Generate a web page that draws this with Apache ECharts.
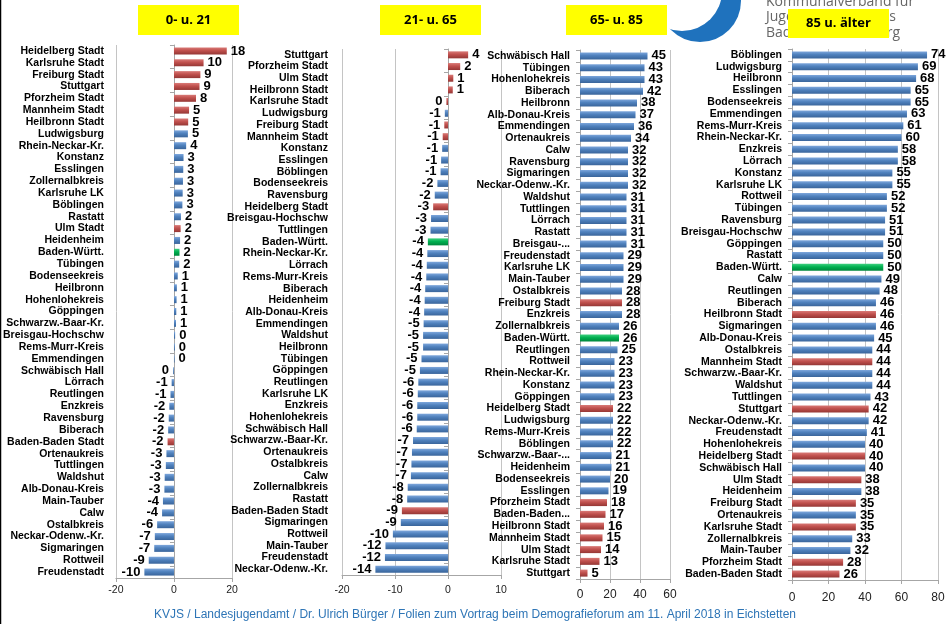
<!DOCTYPE html>
<html>
<head>
<meta charset="utf-8">
<title>Bevölkerungsentwicklung nach Altersgruppen</title>
<script src="https://cdn.jsdelivr.net/npm/echarts@6.0.0/dist/echarts.min.js"></script>
<style>
  html, body { margin: 0; padding: 0; background: #fff; }
  #chart { width: 950px; height: 624px; }
</style>
</head>
<body>
<div id="chart"></div>
<script>
  // Altersgruppen-Überschriften
  const groupTitles = ['0- u. 21', '21- u. 65', '65- u. 85', '85 u. älter']

  // 0- u. 21
  const names1 = ['Heidelberg Stadt', 'Karlsruhe Stadt', 'Freiburg Stadt', 'Stuttgart', 'Pforzheim Stadt',
    'Mannheim Stadt', 'Heilbronn Stadt', 'Ludwigsburg', 'Rhein-Neckar-Kr.', 'Konstanz', 'Esslingen',
    'Zollernalbkreis', 'Karlsruhe LK', 'Böblingen', 'Rastatt', 'Ulm Stadt', 'Heidenheim', 'Baden-Württ.',
    'Tübingen', 'Bodenseekreis', 'Heilbronn', 'Hohenlohekreis', 'Göppingen', 'Schwarzw.-Baar-Kr.',
    'Breisgau-Hochschw', 'Rems-Murr-Kreis', 'Emmendingen', 'Schwäbisch Hall', 'Lörrach', 'Reutlingen',
    'Enzkreis', 'Ravensburg', 'Biberach', 'Baden-Baden Stadt', 'Ortenaukreis', 'Tuttlingen', 'Waldshut',
    'Alb-Donau-Kreis', 'Main-Tauber', 'Calw', 'Ostalbkreis', 'Neckar-Odenw.-Kr.', 'Sigmaringen',
    'Rottweil', 'Freudenstadt']
  const values1 = [18.2, 10.2, 9.1, 8.8, 7.6, 5.2, 4.9, 4.8, 4.2, 3.3, 3.2, 3.1, 3.0, 2.9, 2.4, 2.3, 2.1, 1.9,
    1.8, 1.3, 1.0, 0.9, 0.8, 0.7, 0.4, 0.3, 0.2, -0.3, -0.8, -1.2, -1.6, -1.8, -2.0, -2.2, -2.6, -2.8, -3.2,
    -3.3, -3.8, -4.1, -5.8, -6.6, -6.8, -8.7, -10.2]

  // 21- u. 65
  const names2 = ['Stuttgart', 'Pforzheim Stadt', 'Ulm Stadt', 'Heilbronn Stadt', 'Karlsruhe Stadt',
    'Ludwigsburg', 'Freiburg Stadt', 'Mannheim Stadt', 'Konstanz', 'Esslingen', 'Böblingen', 'Bodenseekreis',
    'Ravensburg', 'Heidelberg Stadt', 'Breisgau-Hochschw', 'Tuttlingen', 'Baden-Württ.', 'Rhein-Neckar-Kr.',
    'Lörrach', 'Rems-Murr-Kreis', 'Biberach', 'Heidenheim', 'Alb-Donau-Kreis', 'Emmendingen', 'Waldshut',
    'Heilbronn', 'Tübingen', 'Göppingen', 'Reutlingen', 'Karlsruhe LK', 'Enzkreis', 'Hohenlohekreis',
    'Schwäbisch Hall', 'Schwarzw.-Baar-Kr.', 'Ortenaukreis', 'Ostalbkreis', 'Calw', 'Zollernalbkreis',
    'Rastatt', 'Baden-Baden Stadt', 'Sigmaringen', 'Rottweil', 'Main-Tauber', 'Freudenstadt',
    'Neckar-Odenw.-Kr.']
  const values2 = [3.8, 2.3, 1.0, 0.9, -0.3, -0.6, -0.7, -1.0, -1.1, -1.3, -1.4, -2.0, -2.5, -2.8, -3.2, -3.3,
    -3.8, -3.9, -4.0, -4.1, -4.3, -4.4, -4.5, -4.6, -4.7, -4.7, -5.0, -5.3, -5.6, -5.7, -5.8, -5.8, -5.9,
    -6.6, -6.8, -6.9, -7.0, -7.6, -7.7, -8.7, -8.9, -10.4, -11.8, -11.9, -13.7]

  // 65- u. 85
  const names3 = ['Schwäbisch Hall', 'Tübingen', 'Hohenlohekreis', 'Biberach', 'Heilbronn', 'Alb-Donau-Kreis',
    'Emmendingen', 'Ortenaukreis', 'Calw', 'Ravensburg', 'Sigmaringen', 'Neckar-Odenw.-Kr.', 'Waldshut',
    'Tuttlingen', 'Lörrach', 'Rastatt', 'Breisgau-...', 'Freudenstadt', 'Karlsruhe LK', 'Main-Tauber',
    'Ostalbkreis', 'Freiburg Stadt', 'Enzkreis', 'Zollernalbkreis', 'Baden-Württ.', 'Reutlingen', 'Rottweil',
    'Rhein-Neckar-Kr.', 'Konstanz', 'Göppingen', 'Heidelberg Stadt', 'Ludwigsburg', 'Rems-Murr-Kreis',
    'Böblingen', 'Schwarzw.-Baar-...', 'Heidenheim', 'Bodenseekreis', 'Esslingen', 'Pforzheim Stadt',
    'Baden-Baden...', 'Heilbronn Stadt', 'Mannheim Stadt', 'Ulm Stadt', 'Karlsruhe Stadt', 'Stuttgart']
  const values3 = [45, 43, 43, 42, 38, 37, 36, 34, 32, 32, 32, 32, 31, 31, 31, 31, 31, 29, 29, 29, 28, 28, 28,
    26, 26, 25, 23, 23, 23, 23, 22, 22, 22, 22, 21, 21, 20, 19, 18, 17, 16, 15, 14, 13, 5]

  // 85 u. älter
  const names4 = ['Böblingen', 'Ludwigsburg', 'Heilbronn', 'Esslingen', 'Bodenseekreis', 'Emmendingen',
    'Rems-Murr-Kreis', 'Rhein-Neckar-Kr.', 'Enzkreis', 'Lörrach', 'Konstanz', 'Karlsruhe LK', 'Rottweil',
    'Tübingen', 'Ravensburg', 'Breisgau-Hochschw', 'Göppingen', 'Rastatt', 'Baden-Württ.', 'Calw',
    'Reutlingen', 'Biberach', 'Heilbronn Stadt', 'Sigmaringen', 'Alb-Donau-Kreis', 'Ostalbkreis',
    'Mannheim Stadt', 'Schwarzw.-Baar-Kr.', 'Waldshut', 'Tuttlingen', 'Stuttgart', 'Neckar-Odenw.-Kr.',
    'Freudenstadt', 'Hohenlohekreis', 'Heidelberg Stadt', 'Schwäbisch Hall', 'Ulm Stadt', 'Heidenheim',
    'Freiburg Stadt', 'Ortenaukreis', 'Karlsruhe Stadt', 'Zollernalbkreis', 'Main-Tauber', 'Pforzheim Stadt',
    'Baden-Baden Stadt']
  const values4 = [74, 69, 68, 65, 65, 63, 61, 60, 58, 58, 55, 55, 52, 52, 51, 51, 50, 50, 50, 49, 48, 46, 46,
    46, 45, 44, 44, 44, 44, 43, 42, 42, 41, 40, 40, 40, 38, 38, 35, 35, 35, 33, 32, 28, 26]

  // Achsen: [min, max, interval]
  const axisRanges = [[-20, 20, 20], [-20, 10, 10], [0, 60, 20], [0, 80, 20]]

  const panels = [
    { names: names1, values: values1, grid: { left: 112, width: 120, top: 45, height: 533 }, labelMargin: 12, xMargin: 7, xFont: 10.5 },
    { names: names2, values: values2, grid: { left: 342, width: 159, top: 49, height: 526 }, labelMargin: 14, xMargin: 10, xFont: 10.5 },
    { names: names3, values: values3, grid: { left: 580, width: 90, top: 50, height: 529 }, labelMargin: 10, xMargin: 10, xFont: 12 },
    { names: names4, values: values4, grid: { left: 792, width: 146, top: 49, height: 531 }, labelMargin: 10, xMargin: 12, xFont: 12 }
  ]

  function grad (top, mid, bottom) {
    return {
      type: 'linear', x: 0, y: 0, x2: 0, y2: 1,
      colorStops: [{ offset: 0, color: top }, { offset: 0.45, color: mid }, { offset: 1, color: bottom }]
    }
  }
  const blue = grad('#7ea7dc', '#4f81bd', '#3a659b')
  const red = grad('#d97a77', '#c0504d', '#953735')
  const green = grad('#3fd07f', '#00b050', '#00863c')

  // Stadtkreise rot, Land gruen, Landkreise blau
  function barColor (name) {
    if (name.indexOf('Baden-Württ') === 0) return green
    if (name.indexOf('Stadt') > -1 || name === 'Stuttgart' || name.indexOf('Baden-Baden') === 0) return red
    return blue
  }

  const font = "'Liberation Sans', Arial, sans-serif"
  const narrow = "'Liberation Sans Narrow', 'Liberation Sans', Arial, sans-serif"

  let grids = []
  let xAxes = []
  let yAxes = []
  let series = []

  panels.forEach((p, i) => {
    const r = axisRanges[i]
    const hasNegative = r[0] < 0
    grids.push(p.grid)
    xAxes.push({
      type: 'value',
      gridIndex: i,
      min: r[0],
      max: r[1],
      interval: r[2],
      axisLine: { show: true, lineStyle: { color: '#a6a6a6' } },
      axisTick: { show: true, length: 4, lineStyle: { color: '#a6a6a6' } },
      axisLabel: { margin: p.xMargin, fontSize: p.xFont, fontFamily: narrow, color: '#222' },
      splitLine: { show: true, lineStyle: { color: '#c4c4c4' } }
    })
    // Beschriftungsachse links
    yAxes.push({
      type: 'category',
      gridIndex: i,
      data: p.names,
      inverse: true,
      axisLine: { show: !hasNegative, onZero: false, lineStyle: { color: '#a6a6a6' } },
      axisTick: { show: !hasNegative, length: 4, lineStyle: { color: '#a6a6a6' } },
      axisLabel: { interval: 0, margin: p.labelMargin, fontSize: 10.5, fontWeight: 'bold', fontFamily: font, color: '#000' }
    })
    // Achse mit Teilstrichen auf der Null-Linie
    yAxes.push({
      type: 'category',
      gridIndex: i,
      data: p.names,
      inverse: true,
      show: hasNegative,
      position: 'left',
      axisLine: { show: true, onZero: true, lineStyle: { color: '#a6a6a6' } },
      axisTick: { show: true, length: 4, lineStyle: { color: '#a6a6a6' } },
      axisLabel: { show: false }
    })
    series.push({
      type: 'bar',
      xAxisIndex: i,
      yAxisIndex: i * 2,
      barWidth: 7,
      animation: false,
      data: p.values.map((v, k) => ({
        value: v,
        itemStyle: { color: barColor(p.names[k]) },
        label: { position: v < 0 ? 'left' : 'right' }
      })),
      label: {
        show: true,
        distance: 4,
        fontSize: 13,
        fontWeight: 'bold',
        fontFamily: font,
        color: '#000',
        formatter: (params) => String(Math.round(params.value))
      }
    })
  })

  // gelbe Ueberschriften
  const titleBoxes = [[138, 5, 101, 30], [380, 5, 101, 30], [566, 5, 101, 30], [788, 9, 101, 29]]
  let graphics = [
    { type: 'circle', z: 1, shape: { cx: 700, cy: 1, r: 41 }, style: { fill: '#1f72bd' } },
    { type: 'circle', z: 2, shape: { cx: 682, cy: -9, r: 40 }, style: { fill: '#fff' } },
    {
      type: 'text', z: 3, left: 766, top: -6,
      style: { text: 'Kommunalverband für\nJugend und Soziales\nBaden-Württemberg', fill: '#666', font: "14px 'Open Sans', sans-serif", lineHeight: 15.5 }
    },
    { type: 'line', z: 3, shape: { x1: 0.5, y1: 0, x2: 0.5, y2: 624 }, style: { stroke: '#000', lineWidth: 1.5 } },
    {
      type: 'text', z: 3, left: 'center', top: 609,
      style: {
        text: 'KVJS / Landesjugendamt / Dr. Ulrich Bürger / Folien zum Vortrag beim Demografieforum am 11. April 2018 in Eichstetten',
        fill: '#2e75b6', font: "12px 'Liberation Sans Narrow', 'Liberation Sans', Arial, sans-serif"
      }
    }
  ]
  titleBoxes.forEach((b, i) => {
    graphics.push({
      type: 'rect', z: 10,
      shape: { x: b[0], y: b[1], width: b[2], height: b[3] },
      style: { fill: '#ffff00' }
    })
    graphics.push({
      type: 'text', z: 11,
      x: b[0] + b[2] / 2, y: b[1] + b[3] / 2,
      style: { text: groupTitles[i], align: 'center', verticalAlign: 'middle', fill: '#000', font: "bold 13px 'Open Sans', sans-serif" }
    })
  })

  const myChart = echarts.init(document.getElementById('chart'), null, { renderer: 'canvas' })
  const option = {
    backgroundColor: '#fff',
    animation: false,
    grid: grids,
    xAxis: xAxes,
    yAxis: yAxes,
    series: series,
    graphic: graphics
  }
  myChart.setOption(option)
</script>
</body>
</html>
